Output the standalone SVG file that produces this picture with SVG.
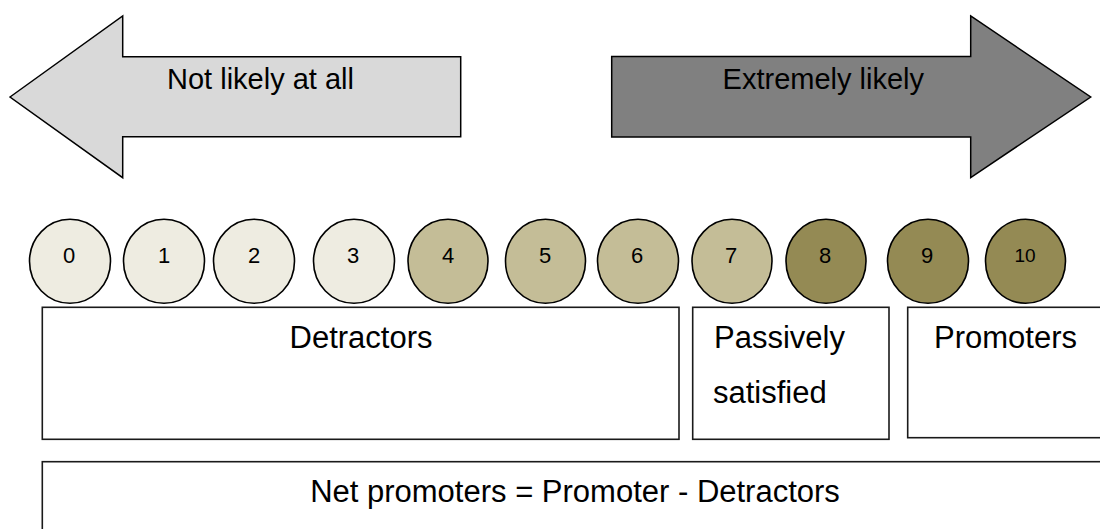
<svg xmlns="http://www.w3.org/2000/svg" width="1100" height="529" viewBox="0 0 1100 529">
  <style>
    .txt { font-family: "Liberation Sans", Arial, Helvetica, sans-serif; fill: #000; }
    .arrow { stroke: #000; stroke-width: 1.5; stroke-linejoin: miter; }
    .dot { stroke: #000; stroke-width: 1.6; }
    .c1 { fill: #EEECE1; }
    .c2 { fill: #C4BD97; }
    .c3 { fill: #948A54; }
    .box { fill: #fff; stroke: #1a1a1a; stroke-width: 1.6; }
    .num { font-size: 22px; text-anchor: middle; }
    .lbl { font-size: 31px; }
    .arw { font-size: 29px; text-anchor: middle; }
  </style>
  <rect width="1100" height="529" fill="#fff"/>

  <g id="arrow-left">
    <path class="arrow" fill="#D9D9D9" d="M10,97 L122.7,16 L122.7,56.7 L460.7,56.7 L460.7,136.7 L122.7,136.7 L122.7,177.7 Z"/>
    <text class="txt arw" x="260.5" y="89.3">Not likely at all</text>
  </g>
  <g id="arrow-right">
    <path class="arrow" fill="#808080" d="M611.7,56.5 L970.7,56.5 L970.7,16 L1090.7,97 L970.7,177.5 L970.7,137 L611.7,137 Z"/>
    <text class="txt arw" x="823.3" y="89">Extremely likely</text>
  </g>

  <g id="score-0"><ellipse class="dot c1" cx="70" cy="261.3" rx="40.5" ry="42"/><text class="txt num" x="69" y="262.5">0</text></g>
  <g id="score-1"><ellipse class="dot c1" cx="164" cy="261.3" rx="40.5" ry="42"/><text class="txt num" x="164" y="262.5">1</text></g>
  <g id="score-2"><ellipse class="dot c1" cx="254" cy="261.3" rx="40.5" ry="42"/><text class="txt num" x="254" y="262.5">2</text></g>
  <g id="score-3"><ellipse class="dot c1" cx="354" cy="261.3" rx="40.5" ry="42"/><text class="txt num" x="353" y="262.5">3</text></g>
  <g id="score-4"><ellipse class="dot c2" cx="448" cy="261.3" rx="40" ry="42"/><text class="txt num" x="448" y="262.5">4</text></g>
  <g id="score-5"><ellipse class="dot c2" cx="545.5" cy="261.3" rx="40" ry="42"/><text class="txt num" x="545" y="262.5">5</text></g>
  <g id="score-6"><ellipse class="dot c2" cx="638" cy="261.3" rx="40.5" ry="42"/><text class="txt num" x="637" y="262.5">6</text></g>
  <g id="score-7"><ellipse class="dot c2" cx="732" cy="261.3" rx="40" ry="42"/><text class="txt num" x="731" y="262.5">7</text></g>
  <g id="score-8"><ellipse class="dot c3" cx="826" cy="261.3" rx="40" ry="42"/><text class="txt num" x="825" y="262.5">8</text></g>
  <g id="score-9"><ellipse class="dot c3" cx="928" cy="261.3" rx="40.5" ry="42"/><text class="txt num" x="927" y="262.5">9</text></g>
  <g id="score-10"><ellipse class="dot c3" cx="1025.5" cy="261.3" rx="40" ry="42"/><text class="txt num" x="1025" y="261.5" style="font-size:19px">10</text></g>

  <g id="detractors">
    <rect class="box" x="42.3" y="307.3" width="636.7" height="132"/>
    <text class="txt lbl" x="361" y="348" text-anchor="middle">Detractors</text>
  </g>
  <g id="passives">
    <rect class="box" x="692.7" y="307.3" width="196.3" height="132"/>
    <text class="txt lbl" x="714" y="348.3">Passively</text>
    <text class="txt lbl" x="713" y="403.3">satisfied</text>
  </g>
  <g id="promoters">
    <rect class="box" x="907.7" y="307.3" width="200" height="130.4"/>
    <text class="txt lbl" x="934" y="348.3">Promoters</text>
  </g>
  <g id="net">
    <rect class="box" x="42.3" y="461.7" width="1066" height="80"/>
    <text class="txt lbl" x="575" y="501.7" text-anchor="middle">Net promoters = Promoter - Detractors</text>
  </g>

  <g id="connectors"></g>
</svg>
